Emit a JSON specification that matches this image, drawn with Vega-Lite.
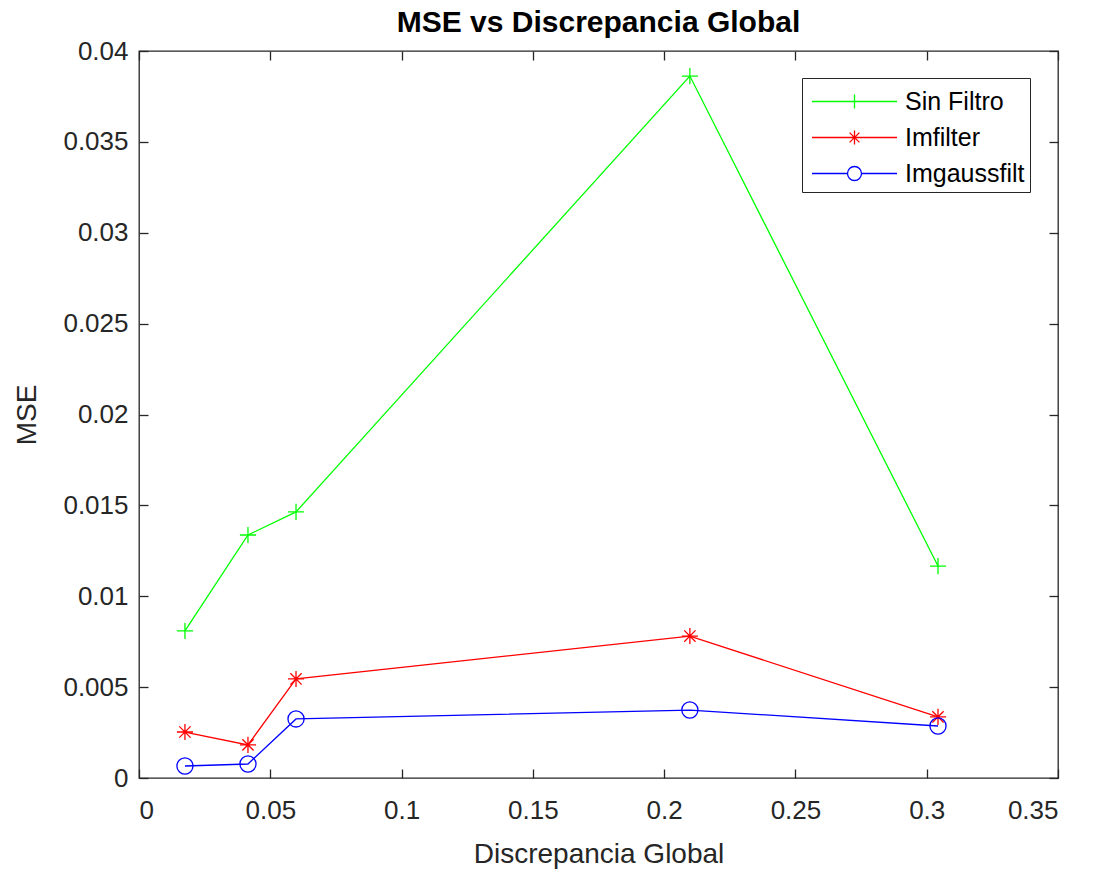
{
  "$schema": "https://vega.github.io/schema/vega-lite/v6.json",
  "width": 919,
  "height": 727,
  "autosize": "none",
  "padding": {"left": 139, "top": 51, "right": 41, "bottom": 95},
  "background": "white",
  "title": {"text": "MSE vs Discrepancia Global", "font": "Liberation Sans", "fontSize": 30, "fontWeight": "bold", "color": "#000000", "offset": 0, "anchor": "middle"},
  "config": {
    "view": {"stroke": "#262626", "strokeWidth": 1.3},
    "axis": {"grid": false, "domain": false, "tickColor": "#262626", "tickWidth": 1.3, "labelFont": "Liberation Sans", "labelFontSize": 26, "labelColor": "#262626", "titleFont": "Liberation Sans", "titleFontSize": 28, "titleColor": "#262626", "titleFontWeight": "normal"}
  },
  "data": {"values": [
    {"d": 0.0175, "mse": 0.00809, "series": "Sin Filtro"},
    {"d": 0.0415, "mse": 0.01337, "series": "Sin Filtro"},
    {"d": 0.0598, "mse": 0.01464, "series": "Sin Filtro"},
    {"d": 0.2098, "mse": 0.03862, "series": "Sin Filtro"},
    {"d": 0.3043, "mse": 0.01166, "series": "Sin Filtro"},
    {"d": 0.0175, "mse": 0.00253, "series": "Imfilter"},
    {"d": 0.0415, "mse": 0.00182, "series": "Imfilter"},
    {"d": 0.0598, "mse": 0.00545, "series": "Imfilter"},
    {"d": 0.2098, "mse": 0.00781, "series": "Imfilter"},
    {"d": 0.3043, "mse": 0.00336, "series": "Imfilter"},
    {"d": 0.0175, "mse": 0.00066, "series": "Imgaussfilt"},
    {"d": 0.0415, "mse": 0.00077, "series": "Imgaussfilt"},
    {"d": 0.0598, "mse": 0.00325, "series": "Imgaussfilt"},
    {"d": 0.2098, "mse": 0.00374, "series": "Imgaussfilt"},
    {"d": 0.3043, "mse": 0.00286, "series": "Imgaussfilt"}
  ]},
  "resolve": {"axis": {"x": "independent", "y": "independent"}, "legend": {"color": "independent"}},
  "layer": [
    {
      "mark": {"type": "line", "strokeWidth": 1.3},
      "encoding": {
        "x": {"field": "d", "type": "quantitative", "scale": {"domain": [0, 0.35], "nice": false, "zero": false},
              "axis": {"orient": "bottom", "title": "Discrepancia Global", "values": [0, 0.05, 0.1, 0.15, 0.2, 0.25, 0.3, 0.35], "format": "~g", "tickSize": -9, "labelPadding": 28, "titlePadding": 17}},
        "y": {"field": "mse", "type": "quantitative", "scale": {"domain": [0, 0.04], "nice": false, "zero": false},
              "axis": {"orient": "left", "title": "MSE", "values": [0, 0.005, 0.01, 0.015, 0.02, 0.025, 0.03, 0.035, 0.04], "format": "~g", "tickSize": -9, "labelPadding": 20, "titlePadding": 21}},
        "color": {"field": "series", "type": "nominal", "scale": {"domain": ["Sin Filtro", "Imfilter", "Imgaussfilt"], "range": ["#00ff00", "#ff0000", "#0000ff"]},
                  "legend": {"title": null, "orient": "none", "legendX": 663, "legendY": 27, "strokeColor": "#262626", "fillColor": "white", "padding": 5, "symbolSize": 1225, "symbolOffset": 29, "labelOffset": 32, "rowPadding": 4, "labelFont": "Liberation Sans", "labelFontSize": 25, "labelColor": "#000000",
                             "encode": {"symbols": {"update": {
                               "shape": {"signal": "datum.value === 'Sin Filtro' ? 'M-2.43,0H2.43M0,-0.4V0.4M-0.4,0H0.4' : datum.value === 'Imfilter' ? 'M-2.43,0H2.43M0,-0.4V0.4M-0.28,-0.28L0.28,0.28M-0.28,0.28L0.28,-0.28' : 'M-2.43,0H-0.4M0.4,0H2.43M-0.4,0A0.4,0.4 0 1,0 0.4,0A0.4,0.4 0 1,0 -0.4,0'"},
                               "stroke": {"signal": "datum.value === 'Sin Filtro' ? '#00ff00' : datum.value === 'Imfilter' ? '#ff0000' : '#0000ff'"},
                               "fill": {"value": "transparent"},
                               "strokeWidth": {"value": 1.3},
                               "opacity": {"value": 1}
                             }}}}}
      }
    },
    {
      "mark": {"type": "point", "filled": false, "strokeWidth": 1.3, "opacity": 1},
      "encoding": {
        "x": {"field": "d", "type": "quantitative", "scale": {"domain": [0, 0.35], "nice": false, "zero": false},
              "axis": {"orient": "top", "title": null, "labels": false, "values": [0, 0.05, 0.1, 0.15, 0.2, 0.25, 0.3, 0.35], "tickSize": -9}},
        "y": {"field": "mse", "type": "quantitative", "scale": {"domain": [0, 0.04], "nice": false, "zero": false},
              "axis": {"orient": "right", "title": null, "labels": false, "values": [0, 0.005, 0.01, 0.015, 0.02, 0.025, 0.03, 0.035, 0.04], "tickSize": -9}},
        "color": {"field": "series", "type": "nominal", "scale": {"domain": ["Sin Filtro", "Imfilter", "Imgaussfilt"], "range": ["#00ff00", "#ff0000", "#0000ff"]}, "legend": null},
        "shape": {"field": "series", "type": "nominal",
                  "scale": {"domain": ["Sin Filtro", "Imfilter", "Imgaussfilt"], "range": ["M-1,0H1M0,-1V1", "M-1,0H1M0,-1V1M-0.7,-0.7L0.7,0.7M-0.7,0.7L0.7,-0.7", "circle"]},
                  "legend": null},
        "size": {"value": 260}
      }
    }
  ]
}
